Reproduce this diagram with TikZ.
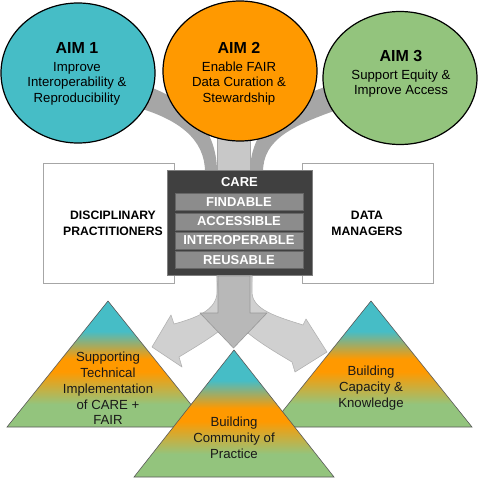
\documentclass[tikz,border=0pt]{standalone}
\usepackage{fontspec}
\setmainfont{Liberation Sans}
\usetikzlibrary{shapes.geometric}
\definecolor{aimteal}{HTML}{46BDC6}
\definecolor{aimorange}{HTML}{FF9900}
\definecolor{aimgreen}{HTML}{93C47D}
\definecolor{banddark}{HTML}{A6A6A6}
\definecolor{bandlight}{HTML}{C8C8C8}
\definecolor{arrowside}{HTML}{D0D0D0}
\definecolor{arrowmid}{HTML}{B8B8B8}
\definecolor{carebox}{HTML}{404040}
\definecolor{carebar}{HTML}{8C8C8C}
\pgfdeclareverticalshading{trishade}{100bp}{color(0bp)=(aimgreen); color(34bp)=(aimgreen); color(47bp)=(aimorange); color(52bp)=(aimorange); color(63bp)=(aimteal); color(100bp)=(aimteal)}
\tikzset{
  aim/.style={ellipse, draw=black, line width=1.2pt, minimum width=154pt, minimum height=140pt, inner sep=0pt},
  aimtext/.style={align=center, inner sep=0pt, font=\fontsize{13.2}{15.5}\selectfont},
  whitebox/.style={draw=black!35, fill=white, line width=0.8pt, minimum width=131pt, minimum height=120pt, inner sep=0pt},
  boxtext/.style={align=center, inner sep=0pt, font=\bfseries\fontsize{12.2}{16.5}\selectfont},
  darkbox/.style={draw=black!50, fill=carebox, line width=0.8pt, minimum width=145pt, minimum height=105pt, inner sep=0pt},
  carebarbox/.style={draw=black!60, fill=carebar, line width=0.6pt, minimum width=128pt, minimum height=17pt, inner sep=0pt, text=white, font=\bfseries\fontsize{13}{15}\selectfont},
  tritext/.style={align=center, inner sep=0pt, text=black!90, font=\fontsize{13.2}{15.8}\selectfont},
  trishape/.style={shading=trishade, draw=black!65, line width=0.6pt},
}
\newcommand{\aimtitle}[1]{{\bfseries\fontsize{16}{18}\selectfont #1}}
\begin{document}
\begin{tikzpicture}[x=1pt,y=-1pt]
\useasboundingbox (0,0) rectangle (480,480);
% side boxes
\node[whitebox] (disc) at (108.5,223) {};
\node[whitebox] (data) at (367.5,223) {};
\node[boxtext] (disctext) at (113,223.5) {DISCIPLINARY\\PRACTITIONERS};
\node[boxtext] (datatext) at (367,223.5) {DATA\\MANAGERS};
% top bands
\fill[banddark] (128,80) .. controls (185,95) and (217,125) .. (217,172) -- (205,172) .. controls (205,140) and (180,118) .. (128,105) -- cycle;
\fill[banddark] (352,80) .. controls (290,92) and (250,125) .. (250,172) -- (263,172) .. controls (263,140) and (290,125) .. (352,105) -- cycle;
\draw[fill=bandlight, draw=black!35, line width=0.6pt] (217,125) rectangle (250,171);
% aim circles
\node[aim, fill=aimteal] (aim1) at (78,73) {};
\node[aim, fill=aimorange] (aim2) at (240,71) {};
\node[aim, fill=aimgreen, minimum height=133pt] (aim3) at (400,78) {};
\node[aimtext] (aim1t) at (77,74) {\aimtitle{AIM 1}\\[2pt]Improve\\Interoperability \&\\Reproducibility};
\node[aimtext] (aim2t) at (239,74) {\aimtitle{AIM 2}\\[2pt]Enable FAIR\\Data Curation \&\\Stewardship};
\node[aimtext] (aim3t) at (401,74) {\aimtitle{AIM 3}\\[2pt]Support Equity \&\\Improve Access};
% CARE box
\node[darkbox] (care) at (239.5,222.5) {};
\node[inner sep=0pt, text=white, font=\bfseries\fontsize{13}{15}\selectfont] (caret) at (239.5,182.5) {CARE};
\node[carebarbox] (find) at (239,202) {FINDABLE};
\node[carebarbox] (acc) at (239,221.5) {ACCESSIBLE};
\node[carebarbox] (inter) at (239,240.5) {INTEROPERABLE};
\node[carebarbox] (reuse) at (239,260) {REUSABLE};
% side triangles
\shade[trishape] (108,301) -- (209,427) -- (7,427) -- cycle;
\shade[trishape] (371,301) -- (472,427) -- (270,427) -- cycle;
\node[tritext] (t1) at (108,388.5) {Supporting\\Technical\\Implementation\\of CARE +\\FAIR};
\node[tritext] (t3) at (371,388) {Building\\Capacity \&\\Knowledge};
% bottom arrows
\draw[fill=arrowside, draw=black!30, line width=0.6pt, line join=round]
  (217,276) -- (217,292) .. controls (217,310) and (196,318) .. (174,324)
  -- (171,315) -- (152,347) -- (182,367) -- (179,357)
  .. controls (215,335) and (252,315) .. (252,276) -- cycle;
\draw[fill=arrowside, draw=black!30, line width=0.6pt, line join=round]
  (252,276) -- (252,292) .. controls (252,310) and (278,317) .. (303,325)
  -- (306,319) -- (327,352) -- (295,372) -- (292,362)
  .. controls (255,340) and (217,318) .. (217,276) -- cycle;
\draw[fill=arrowmid, draw=black!40, line width=0.6pt, line join=round]
  (218,276) -- (218,313) -- (200,313) -- (233.5,348) -- (267,313) -- (250,313) -- (250,276) -- cycle;
% middle triangle
\shade[trishape] (234,350) -- (334,477) -- (134,477) -- cycle;
\node[tritext] (t2) at (234,437.5) {Building\\Community of\\Practice};
\end{tikzpicture}
\end{document}
